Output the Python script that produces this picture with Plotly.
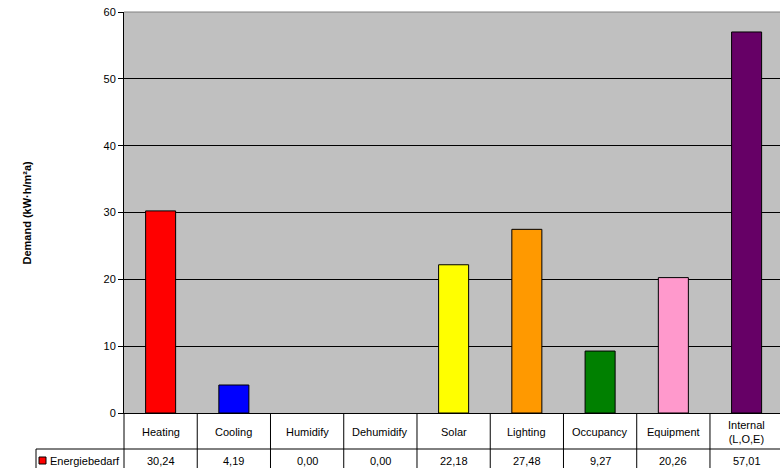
import plotly.graph_objects as go

# Annual energy demand by component
categories = ["Heating", "Cooling", "Humidify", "Dehumidify", "Solar",
              "Lighting", "Occupancy", "Equipment", "Internal<br>(L,O,E)"]
values = [30.24, 4.19, 0.00, 0.00, 22.18, 27.48, 9.27, 20.26, 57.01]
colors = ["#FF0000", "#0000FF", "#C0C0C0", "#C0C0C0", "#FFFF00",
          "#FF9900", "#008000", "#FF99CC", "#660066"]
series_name = "Energiebedarf"
y_ticks = [0, 10, 20, 30, 40, 50, 60]

W, H = 780, 468
ML, MR, MT, MB = 124, 0, 12, 55
plot_w = W - ML - MR
plot_h = H - MT - MB
n = len(categories)
# the last category column runs slightly past the right edge of the page
X0, X1 = -0.5, n - 0.5 - 0.044
FONT = "Liberation Sans, Arial, sans-serif"


def py(pixel_y):
    """Pixel row -> paper y coordinate."""
    return (H - MB - pixel_y) / plot_h


def px(pixel_x):
    """Pixel column -> paper x coordinate."""
    return (pixel_x - ML) / plot_w


def dx(x):
    """Category coordinate -> paper x coordinate."""
    return (x - X0) / (X1 - X0)


def fmt(v):
    return f"{v:.2f}".replace(".", ",")


xs = list(range(n))
fig = go.Figure(go.Bar(
    x=xs, y=values, width=0.41,
    marker=dict(color=colors,
                line=dict(color="black", width=[0 if v == 0 else 1 for v in values])),
    showlegend=False, hoverinfo="skip",
))

shapes = []
annotations = []

# Data table under the plot: column separators and row lines
row1, bottom = py(449), py(470)
for k in range(n + 1):
    xp = dx(k - 0.5)
    if xp > 1:
        continue
    shapes.append(dict(type="line", xref="paper", yref="paper",
                       x0=xp, x1=xp, y0=0, y1=bottom,
                       line=dict(color="black", width=1)))
shapes.append(dict(type="line", xref="paper", yref="paper",
                   x0=px(36), x1=1, y0=row1, y1=row1,
                   line=dict(color="black", width=1)))
shapes.append(dict(type="line", xref="paper", yref="paper",
                   x0=px(36), x1=px(36), y0=row1, y1=bottom,
                   line=dict(color="black", width=1)))
# Legend key in the table
shapes.append(dict(type="rect", xref="paper", yref="paper",
                   x0=px(39), x1=px(46), y0=py(464), y1=py(457),
                   fillcolor=colors[0], line=dict(color="black", width=1)))
# Top border of the plot area
shapes.append(dict(type="line", xref="paper", yref="paper",
                   x0=0, x1=1, y0=1, y1=1, layer="above",
                   line=dict(color="#808080", width=1)))

for i, (c, v) in enumerate(zip(categories, values)):
    annotations.append(dict(x=dx(i), y=py(432), xref="paper", yref="paper", text=c,
                            showarrow=False, xanchor="center", yanchor="middle",
                            font=dict(family=FONT, size=11, color="black")))
    annotations.append(dict(x=dx(i), y=py(461), xref="paper", yref="paper", text=fmt(v),
                            showarrow=False, xanchor="center", yanchor="middle",
                            font=dict(family=FONT, size=11, color="black")))

annotations.append(dict(x=px(48), y=py(461), xref="paper", yref="paper",
                        text=series_name, showarrow=False, xanchor="left",
                        yanchor="middle",
                        font=dict(family=FONT, size=11, color="black")))
annotations.append(dict(x=px(26), y=0.5, xref="paper", yref="paper",
                        text="<b>Demand (kW·h/m²a)</b>", textangle=-90,
                        showarrow=False, xanchor="center", yanchor="middle",
                        font=dict(family=FONT, size=11, color="black")))

fig.update_layout(
    width=W, height=H,
    margin=dict(l=ML, r=MR, t=MT, b=MB, pad=0),
    paper_bgcolor="white", plot_bgcolor="#C0C0C0",
    xaxis=dict(range=[X0, X1], showticklabels=False, ticks="",
               showgrid=False, zeroline=False, showline=True,
               linecolor="black", linewidth=1),
    yaxis=dict(range=[0, 60], tickvals=y_ticks, ticks="outside", ticklen=5,
               tickcolor="black", showline=True, linecolor="black",
               linewidth=1, showgrid=True, gridcolor="black", gridwidth=1,
               zeroline=False,
               tickfont=dict(family=FONT, size=11, color="black")),
    shapes=shapes, annotations=annotations,
)

fig.write_html("out.html")
